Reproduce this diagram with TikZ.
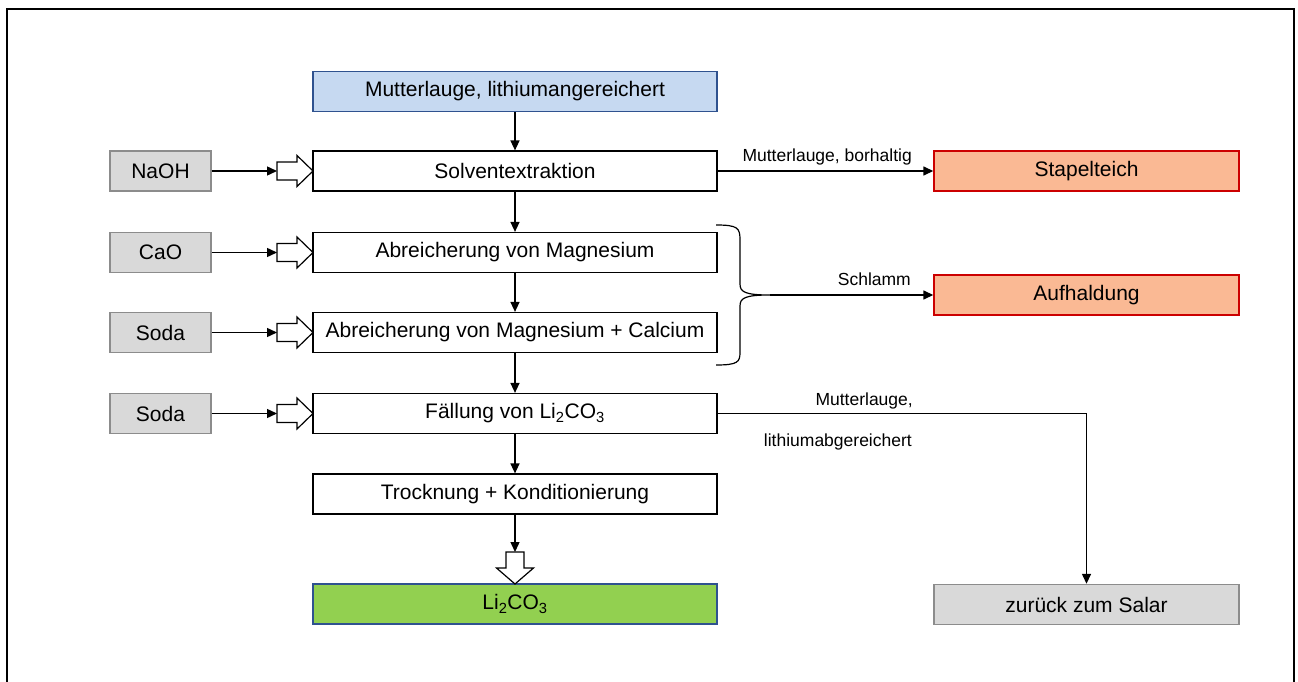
\documentclass[tikz,border=0pt]{standalone}
\usepackage{fontspec}
\setmainfont{Liberation Sans}
\usetikzlibrary{arrows.meta}
\definecolor{bluefill}{RGB}{198,217,241}
\definecolor{blueline}{RGB}{47,82,143}
\definecolor{grayfill}{RGB}{217,217,217}
\definecolor{grayline}{RGB}{140,140,140}
\definecolor{salmon}{RGB}{250,185,148}
\definecolor{redline}{RGB}{204,0,0}
\definecolor{greenfill}{RGB}{146,208,80}
\begin{document}
\begin{tikzpicture}[x=1pt,y=-1pt,
  mainbox/.style={draw=black, line width=1.2pt, fill=white, minimum width=404pt, minimum height=40pt, inner sep=0pt, font=\fontsize{21}{25}\selectfont},
  graybox/.style={draw=grayline, line width=1.4pt, fill=grayfill, minimum width=101pt, minimum height=40pt, inner sep=0pt, font=\fontsize{21}{25}\selectfont},
  rightbox/.style={line width=1.4pt, minimum width=305pt, minimum height=40pt, inner sep=0pt, font=\fontsize{21}{25}\selectfont},
  lbl/.style={inner sep=0pt, font=\fontsize{17.5}{21}\selectfont},
  arr/.style={line width=1.4pt, -{Triangle[length=10pt,width=9pt]}},
  openR/.pic={\draw[line width=1.2pt, fill=white] (0,-9) -- (20,-9) -- (20,-15.5) -- (36,0) -- (20,15.5) -- (20,9) -- (0,9) -- cycle; \coordinate (-tail) at (0,0);},
  openD/.pic={\draw[line width=1.2pt, fill=white] (-9,0) -- (-9,16) -- (-18.5,16) -- (0,32) -- (18.5,16) -- (9,16) -- (9,0) -- cycle; \coordinate (-tail) at (0,0);}
]
\useasboundingbox (0,0) rectangle (1298,682);
\draw[line width=1.5pt] (7,682) -- (7,9) -- (1294,9) -- (1294,682);

% main column
\node[mainbox, fill=bluefill, draw=blueline] (mother) at (515,91.5) {Mutterlauge, lithiumangereichert};
\node[mainbox] (solv) at (515,171) {Solventextraktion};
\node[mainbox] (abr1) at (515,252.5) {Abreicherung von Magnesium};
\node[mainbox] (abr2) at (515,332.5) {Abreicherung von Magnesium + Calcium};
\node[mainbox] (fall) at (515,413.5) {Fällung von Li\textsubscript{2}CO\textsubscript{3}};
\node[mainbox] (trock) at (515,494) {Trocknung + Konditionierung};
\node[mainbox, fill=greenfill, draw=blueline] (li) at (515,604) {Li\textsubscript{2}CO\textsubscript{3}};

% left inputs
\node[graybox] (naoh) at (160.5,171) {NaOH};
\node[graybox] (cao) at (160.5,252.5) {CaO};
\node[graybox] (soda1) at (160.5,332.5) {Soda};
\node[graybox] (soda2) at (160.5,413.5) {Soda};

% right outputs
\node[rightbox, draw=redline, fill=salmon] (stapel) at (1086.5,171) {Stapelteich};
\node[rightbox, draw=redline, fill=salmon] (aufh) at (1086.5,295) {Aufhaldung};
\node[rightbox, draw=grayline, fill=grayfill] (salar) at (1086.5,604.5) {zurück zum Salar};

% open arrows
\pic (oa1) at (277,171) {openR};
\pic (oa2) at (277,252.5) {openR};
\pic (oa3) at (277,332.5) {openR};
\pic (oa4) at (277,413.5) {openR};
\pic (oad) at (515,552) {openD};

\draw[arr] (naoh.east) -- (oa1-tail);
\draw[arr] (cao.east) -- (oa2-tail);
\draw[arr] (soda1.east) -- (oa3-tail);
\draw[arr] (soda2.east) -- (oa4-tail);

% vertical flow
\draw[arr] (mother.south) -- (solv.north);
\draw[arr] (solv.south) -- (abr1.north);
\draw[arr] (abr1.south) -- (abr2.north);
\draw[arr] (abr2.south) -- (fall.north);
\draw[arr] (fall.south) -- (trock.north);
\draw[arr] (trock.south) -- (oad-tail);

% outputs
\draw[arr] (solv.east) -- (stapel.west);
\node[lbl, anchor=base east] (lab1) at (912,161) {Mutterlauge, borhaltig};

\draw[line width=1.2pt] (716,225) .. controls (738,225) and (740,228) .. (740,240) -- (740,284) .. controls (740,292) and (745,295) .. (770,295) .. controls (745,295) and (740,298) .. (740,306) -- (740,352) .. controls (740,362) and (738,365) .. (716,365);
\coordinate (bt) at (770,295);
\draw[arr] (bt) -- (aufh.west);
\node[lbl, anchor=base east] (lab2) at (911,285) {Schlamm};

\draw[arr] (fall.east) -| (salar.north);
\node[lbl, anchor=base east] (lab3) at (913,405) {Mutterlauge,};
\node[lbl, anchor=base east] (lab4) at (912,446) {lithiumabgereichert};
\end{tikzpicture}
\end{document}
